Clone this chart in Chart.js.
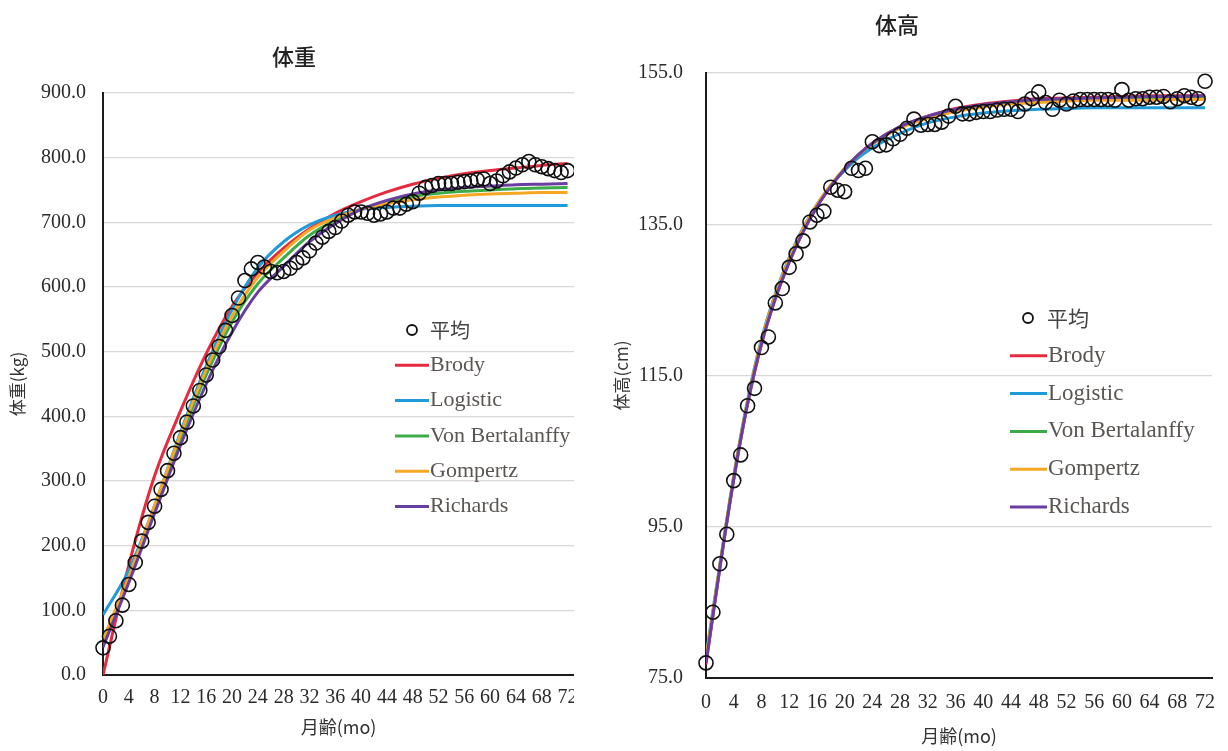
<!DOCTYPE html>
<html>
<head>
<meta charset="utf-8">
<script src="https://cdn.jsdelivr.net/npm/chart.js@4/dist/chart.umd.min.js"></script>
<style>
  html, body { margin: 0; padding: 0; background: #fff; }
  body { width: 1228px; height: 751px; position: relative; overflow: hidden; }
  #weightChart { position: absolute; left: 0; top: 0; }
  #heightChart { position: absolute; left: 590px; top: 0; }
</style>
</head>
<body>
<canvas id="weightChart" width="574" height="751"></canvas>
<canvas id="heightChart" width="638" height="751"></canvas>
<script>
// Age in months for the observed means
const months = [0,1,2,3,4,5,6,7,8,9,10,11,12,13,14,15,16,17,18,19,20,21,22,23,24,
  25,26,27,28,29,30,31,32,33,34,35,36,37,38,39,40,41,42,43,44,45,46,47,48,
  49,50,51,52,53,54,55,56,57,58,59,60,61,62,63,64,65,66,67,68,69,70,71,72];

// Month labels shown on the horizontal axis
const monthTicks = [0,4,8,12,16,20,24,28,32,36,40,44,48,52,56,60,64,68,72];

// Mean body weight (kg) per month
const weightMean = [42,60,84,108,140,174,207,236,261,287,316,343,367,391,416,440,464,487,508,533,
  556,583,610,628,638,631,624,622,624,629,638,645,656,668,677,686,692,702,711,716,
  716,714,711,713,716,722,722,728,732,745,754,757,760,760,760,762,763,764,766,767,
  760,764,772,778,784,789,794,789,786,783,780,777,780];

// Mean body height (cm) per month
const heightMean = [77.0,83.7,90.1,94.0,101.1,104.5,111.0,113.3,118.7,120.1,124.6,126.5,129.3,131.1,132.8,
  135.3,136.2,136.7,139.9,139.5,139.3,142.4,142.1,142.4,145.9,145.4,145.5,146.3,146.9,147.7,
  148.9,148.1,148.2,148.2,148.5,149.3,150.6,149.6,149.6,149.8,149.9,149.9,150.1,150.2,150.2,
  149.9,150.9,151.6,152.5,151.1,150.2,151.4,150.9,151.3,151.5,151.5,151.5,151.5,151.5,151.4,
  152.8,151.4,151.6,151.6,151.8,151.8,151.9,151.2,151.6,152.0,151.8,151.6,153.9];

// Fitted growth curves, weight (kg)
const weightCurveMonths = [0,4,8,12,16,20,24,28,32,36,40,44,48,52,56,60,64,68,72];
const weightBrody       = [0,170,308,408,497,570,622,660,690,714,732,747,759,768,775,780,784,788,791];
const weightLogistic    = [93,162,262,375,478,565,630,670,696,711,720,723,725,726,726,726,726,726,726];
const weightBertalanffy = [46,148,258,366,464,546,605,645,680,703,720,732,740,745,748,750,752,753,754];
const weightGompertz    = [55,152,262,372,472,555,615,655,688,707,720,729,735,739,742,744,745,746,746];
const weightRichards    = [43,143,250,355,450,530,592,632,670,698,720,734,744,750,754,756,758,759,760];

// Fitted growth curves, height (cm)
const heightCurveMonths = [0,2,4,6,8,10,12,14,16,18,20,22,24,28,32,36,40,44,48,52,56,60,64,68,72];
const heightBrody       = [76.8,89.5,101.2,111.2,119.1,125.1,130.0,134.0,137.3,140.0,142.3,144.2,145.7,147.9,149.3,150.3,150.9,151.3,151.6,151.7,151.8,151.9,152.0,152.0,152.0];
const heightLogistic    = [77.9,90.0,101.7,111.8,119.8,125.8,130.6,134.5,137.6,140.1,142.1,143.8,145.1,147.0,148.4,149.2,149.7,150.0,150.2,150.3,150.4,150.4,150.4,150.4,150.4];
const heightBertalanffy = [77.3,89.7,101.4,111.4,119.4,125.4,130.2,134.2,137.4,140.1,142.3,144.2,145.6,147.8,149.2,150.1,150.7,151.1,151.3,151.5,151.6,151.7,151.7,151.7,151.7];
const heightGompertz    = [77.6,89.9,101.6,111.6,119.6,125.6,130.4,134.4,137.6,140.2,142.4,144.2,145.6,147.7,149.0,149.9,150.5,150.9,151.1,151.3,151.4,151.4,151.4,151.5,151.5];
const heightRichards    = [77.0,89.6,101.3,111.3,119.2,125.2,130.0,134.0,137.3,140.0,142.3,144.2,145.7,147.9,149.3,150.2,150.8,151.2,151.5,151.6,151.7,151.8,151.9,151.9,152.0];

// Axis ranges and labels
const monthAxisMax = 73;
const weightTicks = { min: 0, max: 900, step: 100 };
const heightTicks = { min: 75, max: 155, step: 20 };
const meanLabel = '平均';
const modelLabels = ['Brody', 'Logistic', 'Von Bertalanffy', 'Gompertz', 'Richards'];
const modelColors = ['#e52b3d', '#1e9bd8', '#3dac48', '#f5a823', '#6a3ea1'];

Chart.defaults.font.family = "'Liberation Serif', 'Times New Roman', serif";
Chart.defaults.color = '#333';

const pairUp = (xs, ys) => xs.map((x, i) => ({ x: x, y: ys[i] }));

// Panel heading drawn above the plot
const panelTitle = {
  id: 'panelTitle',
  afterDraw(chart, args, o) {
    const ctx = chart.ctx;
    ctx.save();
    ctx.font = o.font;
    ctx.fillStyle = o.color;
    ctx.textAlign = 'center';
    ctx.textBaseline = 'middle';
    ctx.fillText(o.text, o.x, o.y);
    ctx.restore();
  }
};

// Key listing the mean markers and the five fitted curves
const curveKey = {
  id: 'curveKey',
  afterDatasetsDraw(chart, args, o) {
    const ctx = chart.ctx;
    ctx.save();
    const sets = chart.data.datasets.slice().sort((a, b) => a.keyIndex - b.keyIndex);
    sets.forEach((ds, i) => {
      const y = o.y + i * o.gap;
      ctx.beginPath();
      if (ds.showLine === false) {
        ctx.arc(o.dotX, y, o.dotR, 0, Math.PI * 2);
        ctx.lineWidth = 1.8;
        ctx.strokeStyle = '#111';
        ctx.stroke();
        ctx.font = o.cjkFont;
        ctx.fillStyle = '#444';
        ctx.textAlign = 'left';
        ctx.textBaseline = 'middle';
        ctx.fillText(ds.label, o.dotText, y);
      } else {
        ctx.moveTo(o.x, y);
        ctx.lineTo(o.x + o.lineLen, y);
        ctx.lineWidth = 3;
        ctx.strokeStyle = ds.borderColor;
        ctx.stroke();
        ctx.font = o.font;
        ctx.fillStyle = '#5a5552';
        ctx.textAlign = 'left';
        ctx.textBaseline = 'middle';
        ctx.fillText(ds.label, o.x + o.lineLen + 1, y);
      }
    });
    ctx.restore();
  }
};

function buildDatasets(meanVals, curveMonths, curves) {
  const sets = [{
    label: meanLabel,
    keyIndex: 0,
    order: 0,
    data: pairUp(months, meanVals),
    showLine: false,
    pointRadius: 7,
    pointBorderWidth: 1.6,
    pointBackgroundColor: 'rgba(0,0,0,0)',
    pointBorderColor: '#111',
    borderColor: '#111',
    clip: false
  }];
  curves.forEach((vals, i) => {
    sets.push({
      label: modelLabels[i],
      keyIndex: i + 1,
      order: 6 - i,
      data: pairUp(curveMonths, vals),
      showLine: true,
      borderColor: modelColors[i],
      backgroundColor: modelColors[i],
      borderWidth: 3,
      pointRadius: 0,
      cubicInterpolationMode: 'monotone',
      fill: false
    });
  });
  return sets;
}

function buildOptions(cfg) {
  return {
    responsive: false,
    animation: false,
    events: [],
    layout: { autoPadding: false, padding: { top: cfg.top, right: cfg.right, bottom: 0, left: 0 } },
    plugins: {
      legend: { display: false },
      tooltip: { enabled: false },
      panelTitle: cfg.title,
      curveKey: cfg.key
    },
    scales: {
      x: {
        type: 'linear',
        min: 0,
        max: monthAxisMax,
        afterBuildTicks(s) {
          s.ticks = monthTicks.map(v => ({ value: v }));
        },
        afterFit(s) {
          s.height = cfg.xHeight;
          s.paddingLeft = 0;
          s.paddingRight = 0;
        },
        ticks: {
          autoSkip: false,
          maxRotation: 0,
          padding: cfg.xTickPad,
          color: '#2b2b2b',
          font: { size: 20 }
        },
        grid: { display: false, drawTicks: false },
        border: { display: true, color: '#1c1c1c', width: 2 },
        title: {
          display: true,
          text: '月齢(mo)',
          color: '#333',
          font: { family: "'Noto Sans CJK JP', sans-serif", size: 18 },
          padding: { top: 0, bottom: cfg.xTitlePad }
        }
      },
      y: {
        type: 'linear',
        min: cfg.yTicks.min,
        max: cfg.yTicks.max,
        afterFit(s) {
          s.width = cfg.yWidth;
        },
        ticks: {
          stepSize: cfg.yTicks.step,
          padding: cfg.yTickPad,
          color: '#2b2b2b',
          font: { size: 20 },
          callback: v => Number(v).toFixed(1)
        },
        grid: { color: '#dcd6d5', lineWidth: 1.2, drawTicks: false },
        border: { display: true, color: '#1c1c1c', width: 2 },
        title: {
          display: true,
          text: cfg.yTitle,
          color: '#333',
          font: { family: "'Noto Sans CJK JP', sans-serif", size: 17 },
          padding: { top: cfg.yTitlePad, bottom: 0 }
        }
      }
    }
  };
}

new Chart(document.getElementById('weightChart'), {
  type: 'scatter',
  data: {
    datasets: buildDatasets(weightMean, weightCurveMonths,
      [weightBrody, weightLogistic, weightBertalanffy, weightGompertz, weightRichards])
  },
  options: buildOptions({
    top: 93, right: 0,
    xHeight: 76, yWidth: 103,
    xTickPad: 11, xTitlePad: 13,
    yTickPad: 17, yTitlePad: 7,
    yTicks: weightTicks,
    yTitle: '体重(kg)',
    title: { text: '体重', x: 294, y: 57, font: "500 22px 'Noto Sans CJK JP'", color: '#222' },
    key: { x: 395, y: 330, gap: 35.3, lineLen: 34, dotX: 412, dotR: 5, dotText: 430,
           font: "22px 'Liberation Serif'", cjkFont: "20px 'Noto Sans CJK JP'" }
  }),
  plugins: [panelTitle, curveKey]
});

new Chart(document.getElementById('heightChart'), {
  type: 'scatter',
  data: {
    datasets: buildDatasets(heightMean, heightCurveMonths,
      [heightBrody, heightLogistic, heightBertalanffy, heightGompertz, heightRichards])
  },
  options: buildOptions({
    top: 73, right: 16,
    xHeight: 73, yWidth: 116,
    xTickPad: 13, xTitlePad: 4,
    yTickPad: 23, yTitlePad: 21,
    yTicks: heightTicks,
    yTitle: '体高(cm)',
    title: { text: '体高', x: 307, y: 25, font: "500 22px 'Noto Sans CJK JP'", color: '#222' },
    key: { x: 420, y: 318, gap: 37.8, lineLen: 37, dotX: 438, dotR: 5, dotText: 457,
           font: "23px 'Liberation Serif'", cjkFont: "21px 'Noto Sans CJK JP'" }
  }),
  plugins: [panelTitle, curveKey]
});
</script>
</body>
</html>
